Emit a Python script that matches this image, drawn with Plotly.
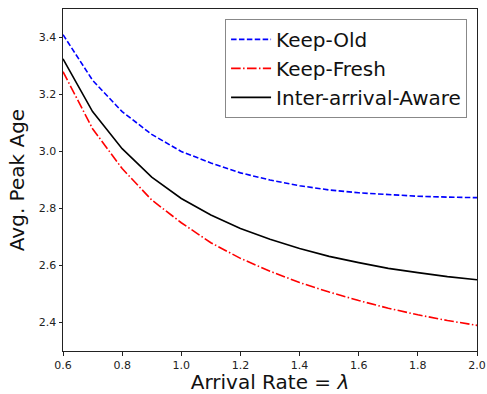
import plotly.graph_objects as go

x = [0.6, 0.7, 0.8, 0.9, 1.0, 1.1, 1.2, 1.3, 1.4, 1.5, 1.6, 1.7, 1.8, 1.9, 2.0]
keep_old = [3.41, 3.25, 3.14, 3.06, 3.00, 2.96, 2.925, 2.90, 2.88, 2.865, 2.855, 2.848, 2.843, 2.840, 2.838]
keep_fresh = [3.28, 3.08, 2.94, 2.83, 2.75, 2.68, 2.625, 2.58, 2.54, 2.507, 2.477, 2.45, 2.427, 2.407, 2.39]
inter_aware = [3.325, 3.14, 3.01, 2.91, 2.835, 2.777, 2.73, 2.692, 2.66, 2.632, 2.61, 2.59, 2.575, 2.561, 2.55]
x_ticks = [0.6, 0.8, 1.0, 1.2, 1.4, 1.6, 1.8, 2.0]
x_tick_labels = ["0.6", "0.8", "1.0", "1.2", "1.4", "1.6", "1.8", "2.0"]
y_ticks = [2.4, 2.6, 2.8, 3.0, 3.2, 3.4]
y_tick_labels = ["2.4", "2.6", "2.8", "3.0", "3.2", "3.4"]

fig = go.Figure()
fig.add_trace(go.Scatter(x=x, y=keep_old, mode="lines", name="Keep-Old",
                         line=dict(color="#0000ff", dash="5.5px,2.4px", width=1.6)))
fig.add_trace(go.Scatter(x=x, y=keep_fresh, mode="lines", name="Keep-Fresh",
                         line=dict(color="#ff0000", dash="9.6px,2.4px,1.5px,2.4px", width=1.6)))
fig.add_trace(go.Scatter(x=x, y=inter_aware, mode="lines", name="Inter-arrival-Aware",
                         line=dict(color="#000000", width=1.6)))

axis_common = dict(showgrid=False, zeroline=False, showline=True, linecolor="#222",
                   linewidth=1, mirror=True, ticks="outside", ticklen=3.5, tickcolor="#222",
                   tickfont=dict(size=11, color="#222"), automargin=False)
fig.update_layout(
    width=487, height=394,
    margin=dict(l=63, r=10, t=9, b=43),
    paper_bgcolor="white", plot_bgcolor="white",
    font=dict(family="DejaVu Sans", color="#111"),
    xaxis=dict(range=[0.6, 2.0], tickvals=x_ticks, ticktext=x_tick_labels,
               title=dict(text="Arrival Rate = <i>λ</i>", font=dict(size=20), standoff=7),
               **axis_common),
    yaxis=dict(range=[2.3, 3.5], tickvals=y_ticks, ticktext=y_tick_labels,
               title=dict(text="Avg. Peak Age", font=dict(size=20), standoff=8),
               **axis_common),
    legend=dict(x=0.976, y=0.971, xanchor="right", yanchor="top",
                bordercolor="#888", borderwidth=1, bgcolor="rgba(255,255,255,0.8)",
                font=dict(size=20), tracegroupgap=0, itemwidth=40),
    showlegend=True,
)

fig.write_html("out.html", config={"displayModeBar": False},
               post_script="document.body.style.margin='0';document.body.style.overflow='hidden';")
